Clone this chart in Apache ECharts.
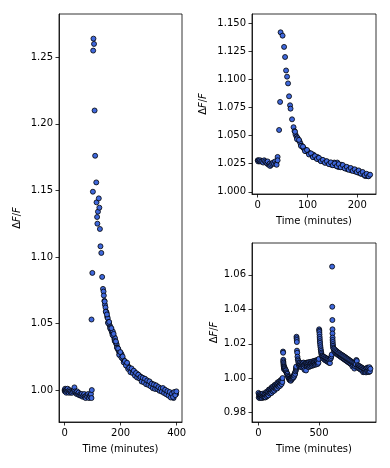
<!DOCTYPE html>
<html lang="en">
<head>
  <meta charset="UTF-8">
  <style>
    body { margin: 0; background: #fff; }
    #chart { width: 390px; height: 468px; }
  </style>
  <title>dF/F over time</title>
</head>
<body>
  <div id="chart"></div>
  <script src="https://cdn.jsdelivr.net/npm/echarts@6.0.0/dist/echarts.min.js"></script>
  <script>
    // [time (min), dF/F]
    var leftPts = [
      [0,1.000],[1,0.999],[2,1.001],[3,0.999],[4,1.000],[6,0.998],[7,1.000],[9,0.999],[11,1.001],[13,0.999],
      [15,0.998],[17,1.000],[19,0.999],[22,0.998],[24,0.999],[27,0.998],[30,0.999],[33,1.000],[35,1.002],[37,0.999],
      [40,0.998],[43,0.997],[45,0.999],[48,0.997],[50,0.998],[53,0.996],[56,0.997],[58,0.996],[61,0.997],[64,0.995],
      [67,0.996],[70,0.997],[72,0.995],[75,0.994],[78,0.996],[81,0.995],[84,0.997],[87,0.994],[90,0.996],[92,0.995],
      [94,0.997],[96,0.994],[97,1.000],
      [96,1.053],[99,1.088],[101,1.149],[102,1.255],[103,1.264],[105,1.260],[107,1.210],[109,1.176],[113,1.156],[114,1.141],
      [116,1.130],[117,1.125],[119,1.134],[122,1.144],[124,1.137],[126,1.121],[128,1.108],[131,1.103],[134,1.085],[137,1.076],
      [139,1.074],[140,1.071],
      [142,1.067],[144,1.064],[146,1.062],[148,1.059],[150,1.058],[152,1.055],[154,1.054],[156,1.051],[158,1.050],[160,1.049],
      [162,1.048],[164,1.046],[166,1.046],[168,1.044],[170,1.043],[172,1.044],[174,1.041],[176,1.040],[178,1.038],[180,1.039],
      [182,1.036],[184,1.035],[186,1.034],[188,1.032],[190,1.031],[192,1.030],[194,1.029],[196,1.027],[198,1.028],[200,1.026],
      [203,1.027],[206,1.024],[209,1.023],[212,1.022],[215,1.021],[218,1.020],[221,1.019],[224,1.019],[227,1.017],[230,1.017],
      [233,1.016],[236,1.015],[239,1.015],[242,1.014],[245,1.013],[248,1.014],[251,1.012],[254,1.012],[257,1.011],[260,1.012],
      [263,1.010],[266,1.011],[269,1.009],[272,1.010],[275,1.008],[278,1.009],[281,1.008],[284,1.007],[287,1.008],[290,1.006],
      [293,1.007],[296,1.006],[299,1.005],[302,1.006],[305,1.004],[308,1.005],[311,1.004],[314,1.003],[317,1.004],[320,1.003],
      [323,1.002],[326,1.003],[329,1.002],[332,1.001],[335,1.002],[338,1.000],[341,1.001],[344,1.000],[347,1.000],[350,1.001],
      [353,0.999],[356,1.000],[359,0.999],[362,0.998],[365,0.999],[368,0.998],[371,0.997],[374,0.998],[377,0.996],[380,0.997],
      [383,0.996],[386,0.995],[389,0.994],[392,0.997],[395,0.998],[398,0.997],
      [143,1.0665],[147,1.0588],[151,1.0568],[155,1.0504],[159,1.0512],[163,1.0464],[167,1.0465],[171,1.0414],[175,1.0422],[179,1.0368],
      [183,1.0365],[187,1.0318],[191,1.0312],[195,1.0264],[199,1.0285],[203,1.0244],[207,1.0252],[211,1.0208],[215,1.0218],[219,1.0184],
      [223,1.0205],[227,1.0158],[231,1.0168],[235,1.0134],[239,1.0162],[243,1.0128],[247,1.0145],[251,1.0108],[255,1.0128],[259,1.0094],
      [263,1.0115],[267,1.0088],[271,1.0098],[275,1.0064],[279,1.0092],[283,1.0058],[287,1.0085],[291,1.0044],[295,1.0072],[299,1.0038],
      [303,1.0065],[307,1.0028],[311,1.0048],[315,1.0014],[319,1.0042],[323,1.0008],[327,1.0035],[331,1.0008],[335,1.0022],[339,0.9994],
      [343,1.0012],[347,0.9988],[351,1.0015],[355,0.9978],[359,1.0002],[363,0.9968],[367,0.9992],[371,0.9958],[375,0.9985],[379,0.9944],
      [383,0.9972],[387,0.9948],[391,0.9985],[395,0.9962],[399,0.9990]
    ];

    var topPts = [
      [0,1.028],[1,1.027],[2,1.028],[4,1.027],[5,1.028],[7,1.027],[9,1.027],[11,1.026],[13,1.028],[15,1.027],
      [17,1.026],[19,1.025],[20,1.027],[22,1.024],[24,1.025],[25,1.023],[27,1.024],[29,1.025],[31,1.026],[33,1.025],
      [35,1.027],[37,1.025],[38,1.024],[40,1.031],[40,1.028],
      [43,1.055],[45,1.080],[46,1.142],[50,1.139],[53,1.129],[55,1.120],[57,1.108],[59,1.1025],[61,1.0965],[63,1.085],
      [65,1.077],[66,1.074],[69,1.0645],[72,1.0575],
      [74,1.054],[76,1.051],[78,1.049],[80,1.048],[82,1.046],[84,1.045],[86,1.043],[88,1.041],[90,1.040],[92,1.039],
      [94,1.038],[96,1.037],[98,1.036],[100,1.036],[102,1.035],[104,1.034],[106,1.034],[108,1.033],[110,1.032],[112,1.033],
      [114,1.031],[116,1.031],[118,1.030],[120,1.031],[122,1.029],[124,1.029],[126,1.028],[128,1.028],[130,1.028],[132,1.027],
      [134,1.027],[136,1.026],[138,1.027],[140,1.026],[142,1.026],[144,1.025],[146,1.025],[148,1.024],[150,1.025],[152,1.024],
      [154,1.026],[156,1.024],[158,1.023],[160,1.026],[162,1.022],[164,1.023],[166,1.022],[168,1.024],[170,1.023],[172,1.022],
      [174,1.022],[176,1.021],[178,1.021],[180,1.020],[182,1.021],[184,1.020],[186,1.020],[188,1.019],[190,1.020],[192,1.019],
      [194,1.019],[196,1.018],[198,1.019],[200,1.018],[202,1.017],[204,1.018],[206,1.017],[208,1.016],[210,1.017],[212,1.016],
      [214,1.015],[216,1.014],[218,1.015],[220,1.014],[222,1.014],[224,1.015],
      [75,1.0535],[79,1.0468],[83,1.0462],[87,1.0408],[91,1.0402],[95,1.0362],[99,1.0372],[103,1.0332],[107,1.0342],[111,1.0308],
      [115,1.0318],[119,1.0292],[123,1.0302],[127,1.0272],[131,1.0284],[135,1.0258],[139,1.0272],[143,1.0246],[147,1.0262],[151,1.0236],
      [155,1.0252],[159,1.0228],[163,1.0246],[167,1.0218],[171,1.0238],[175,1.0208],[179,1.0222],[183,1.0196],[187,1.0212],[191,1.0186],
      [195,1.0200],[199,1.0176],[203,1.0190],[207,1.0162],[211,1.0176],[215,1.0148],[219,1.0160],[223,1.0138],[226,1.0152]
    ];

    var bottomPts = [
      [0,0.9915],[3,0.9889],[5,0.9903],[8,0.9885],[10,0.9909],[13,0.9893],[15,0.9899],[18,0.9887],[20,0.9907],[23,0.9891],
      [26,0.9901],[29,0.9885],[32,0.9905],[35,0.9895],[38,0.9911],[41,0.9888],[44,0.9900],[47,0.9892],[50,0.9908],[53,0.9889],
      [56,0.9907],[59,0.9889],[62,0.9919],[65,0.9901],[68,0.9911],[71,0.9895],[74,0.9923],[77,0.9904],[80,0.9920],[83,0.9901],
      [86,0.9934],[89,0.9915],[92,0.9930],[95,0.9911],[98,0.9937],[101,0.9919],[104,0.9933],[107,0.9914],[110,0.9948],[113,0.9930],
      [116,0.9943],[119,0.9923],[122,0.9952],[125,0.9934],[128,0.9946],[131,0.9928],[134,0.9961],[137,0.9942],[140,0.9958],[143,0.9938],
      [146,0.9965],[149,0.9946],[152,0.9961],[155,0.9941],[158,0.9976],[161,0.9956],[164,0.9971],[167,0.9951],[170,0.9980],[173,0.9961],
      [176,0.9974],[179,0.9956],[182,0.9988],[185,0.9970],[188,0.9986],[191,0.9966],[194,0.9994],[197,0.9978],[199,1.0001],
      [203,1.0155],[204,1.0148],[205,1.0107],[205,1.0098],[206,1.0090],[207,1.0082],[208,1.0075],[209,1.0068],[210,1.0060],[211,1.0052],
      [213,1.0065],[216,1.0060],[219,1.0055],[222,1.0048],[225,1.0042],[228,1.0045],[231,1.0035],[234,1.0030],[237,1.0022],[240,1.0025],
      [243,1.0015],[246,1.0008],[249,1.0005],[252,0.9998],[255,0.9992],[258,0.9998],[261,0.9988],[264,0.9995],[267,0.9985],[270,1.0000],
      [273,0.9992],[276,1.0004],[279,0.9998],[282,1.0008],[285,1.0002],[288,1.0012],[291,1.0006],[294,1.0020],[297,1.0015],[300,1.0030],
      [303,1.0025],[306,1.0040],[309,1.0048],[310,1.0055],[311,1.0062],[312,1.0068],
      [314,1.0241],[315,1.0232],[316,1.0222],[317,1.0210],[318,1.0160],[320,1.0148],[322,1.0125],[325,1.0110],[328,1.0102],
      [330,1.0092],[333,1.0078],[336,1.0085],[339,1.0068],[342,1.0090],[345,1.0072],[348,1.0080],[351,1.0065],[354,1.0088],[357,1.0074],
      [360,1.0082],[363,1.0062],[366,1.0086],[369,1.0070],[372,1.0091],[375,1.0066],[378,1.0079],[381,1.0048],[384,1.0088],[387,1.0073],
      [390,1.0083],[393,1.0045],[396,1.0090],[399,1.0070],[402,1.0085],[405,1.0068],[408,1.0092],[411,1.0075],[414,1.0087],[417,1.0065],
      [420,1.0094],[423,1.0072],[426,1.0086],[429,1.0070],[432,1.0095],[435,1.0078],[438,1.0090],[441,1.0072],[444,1.0097],[447,1.0080],
      [450,1.0092],[453,1.0075],[456,1.0100],[459,1.0082],[462,1.0094],[465,1.0078],[468,1.0102],[471,1.0085],[474,1.0097],[477,1.0080],
      [480,1.0105],[483,1.0088],[486,1.0100],[489,1.0083],[492,1.0108],[495,1.0090],[498,1.0112],
      [501,1.0284],[502,1.0276],[503,1.0268],[504,1.0255],[505,1.0240],[506,1.0228],[507,1.0215],[508,1.0205],[510,1.0192],[512,1.0180],
      [514,1.0168],[516,1.0158],[518,1.0148],[520,1.0140],[523,1.0132],[526,1.0126],
      [530,1.0128],[534,1.0115],[538,1.0125],[542,1.0110],[546,1.0122],[550,1.0105],[554,1.0118],[558,1.0102],[562,1.0115],[566,1.0098],
      [570,1.0112],[574,1.0095],[578,1.0110],[582,1.0090],[586,1.0106],[590,1.0088],[594,1.0112],[598,1.0118],[602,1.0128],[605,1.0138],
      [608,1.0648],[609,1.0415],[610,1.0338],[611,1.0284],[611,1.0260],[612,1.0236],[612,1.0222],[613,1.0210],[614,1.0198],[615,1.0188],
      [616,1.0178],
      [620,1.0172],[624,1.0158],[628,1.0168],[632,1.0150],[636,1.0162],[640,1.0145],[644,1.0157],[648,1.0140],[652,1.0153],[656,1.0136],
      [660,1.0148],[664,1.0132],[668,1.0145],[672,1.0128],[676,1.0140],[680,1.0124],[684,1.0137],[688,1.0120],[692,1.0133],[696,1.0116],
      [700,1.0130],[704,1.0112],[708,1.0126],[712,1.0108],[716,1.0122],[720,1.0104],[724,1.0118],[728,1.0100],[732,1.0114],[736,1.0096],
      [740,1.0110],[744,1.0092],[748,1.0106],[752,1.0088],[756,1.0102],[760,1.0084],[764,1.0098],[768,1.0080],[772,1.0094],[776,1.0068],
      [780,1.0090],[784,1.0074],[788,1.0087],[792,1.0056],[796,1.0083],[800,1.0068],[804,1.0080],[808,1.0106],[812,1.0100],[816,1.0064],
      [820,1.0076],[824,1.0060],[828,1.0072],[832,1.0056],[836,1.0069],[840,1.0052],[844,1.0065],[848,1.0048],[852,1.0062],[856,1.0045],
      [860,1.0058],[864,1.0035],[868,1.0055],[872,1.0040],[876,1.0052],[880,1.0036],[884,1.0050],[888,1.0034],[892,1.0058],[896,1.0040],
      [900,1.0062],[904,1.0038],[908,1.0058],[912,1.0036],[916,1.0064],[920,1.0040],[924,1.0055]
    ];

    var leftXTicks = [0, 200, 400];
    var leftYTicks = [1.00, 1.05, 1.10, 1.15, 1.20, 1.25];
    var topXTicks = [0, 100, 200];
    var topYTicks = [1.000, 1.025, 1.050, 1.075, 1.100, 1.125, 1.150];
    var bottomXTicks = [0, 500];
    var bottomYTicks = [0.98, 1.00, 1.02, 1.04, 1.06];

    var FONT = 'DejaVu Sans';
    var line = { color: '#000', width: 0.8 };

    function xAx(g, min, max, ticks) {
      return {
        type: 'value', gridIndex: g, min: min, max: max,
        name: 'Time (minutes)', nameLocation: 'middle', nameGap: 22,
        nameTextStyle: { color: '#000', fontSize: 10, fontFamily: FONT },
        axisLine: { onZero: false, lineStyle: line },
        axisTick: { show: true, length: 3.5, customValues: ticks, lineStyle: line },
        axisLabel: { customValues: ticks, margin: 6, color: '#000', fontSize: 10, fontFamily: FONT },
        splitLine: { show: false }
      };
    }

    function yAx(g, min, max, ticks, dec, gap) {
      return {
        type: 'value', gridIndex: g, min: min, max: max,
        name: 'Δ{i|F}/{i|F}', nameLocation: 'middle', nameRotate: 90, nameGap: gap,
        nameTextStyle: { color: '#000', fontSize: 10, fontFamily: FONT, rich: { i: { fontStyle: 'italic', fontSize: 10, fontFamily: FONT } } },
        axisLine: { onZero: false, lineStyle: line },
        axisTick: { show: true, length: 3.5, customValues: ticks, lineStyle: line },
        axisLabel: {
          customValues: ticks, margin: 6, color: '#000', fontSize: 10, fontFamily: FONT,
          formatter: function (v) { return v.toFixed(dec); }
        },
        splitLine: { show: false }
      };
    }

    function dots(i, data) {
      return {
        type: 'scatter', xAxisIndex: i, yAxisIndex: i, data: data,
        symbolSize: 5,
        itemStyle: { color: '#3f68dc', borderColor: '#000', borderWidth: 0.8, opacity: 1 }
      };
    }

    var gridBox = { show: true, borderColor: '#000', borderWidth: 0.8, backgroundColor: 'transparent' };

    var option = {
      animation: false,
      backgroundColor: '#fff',
      grid: [
        Object.assign({ left: 59, top: 14, width: 123, height: 408 }, gridBox),
        Object.assign({ left: 252, top: 14, width: 124, height: 180 }, gridBox),
        Object.assign({ left: 252, top: 243, width: 124, height: 179 }, gridBox)
      ],
      xAxis: [
        xAx(0, -20, 419, leftXTicks),
        xAx(1, -11.5, 237.8, topXTicks),
        xAx(2, -53, 970, bottomXTicks)
      ],
      yAxis: [
        yAx(0, 0.976, 1.2825, leftYTicks, 2, 37),
        yAx(1, 0.998, 1.1583, topYTicks, 3, 44),
        yAx(2, 0.9746, 1.0785, bottomYTicks, 2, 33)
      ],
      series: [dots(0, leftPts), dots(1, topPts), dots(2, bottomPts)]
    };

    var chart = echarts.init(document.getElementById('chart'), null, { renderer: 'canvas' });
    chart.setOption(option);
  </script>
</body>
</html>
